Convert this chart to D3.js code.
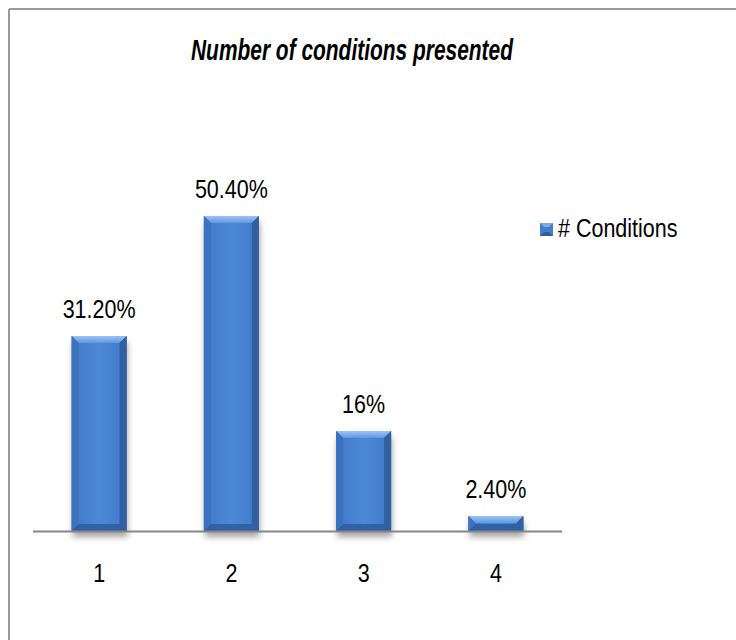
<!DOCTYPE html>
<html>
<head>
<meta charset="utf-8">
<script src="https://cdn.jsdelivr.net/npm/d3@7/dist/d3.min.js"></script>
<style>
  html, body { margin: 0; padding: 0; background: #fff; }
  svg { display: block; }
</style>
</head>
<body>
<svg id="chart" width="736" height="640"></svg>
<script>
// Chart data
const categories = ["1", "2", "3", "4"];
const values = [31.2, 50.4, 16, 2.4];
const valueLabels = ["31.20%", "50.40%", "16%", "2.40%"];
const seriesName = "# Conditions";
const titleText = "Number of conditions presented";

const W = 736, H = 640;
const svg = d3.select("#chart");
const font = "'Liberation Sans', Arial, sans-serif";

// Plot geometry
const x = d3.scaleBand().domain(categories).range([33, 562])
  .paddingInner(0.584).paddingOuter(0.292);
const y = d3.scaleLinear().domain([0, 60]).range([531, 156]);

const defs = svg.append("defs");

// Horizontal face gradient for bars
const face = defs.append("linearGradient").attr("id", "face")
  .attr("x1", "0").attr("x2", "1").attr("y1", "0").attr("y2", "0");
face.append("stop").attr("offset", "0").attr("stop-color", "#3a6cb3");
face.append("stop").attr("offset", "0.14").attr("stop-color", "#437dcc");
face.append("stop").attr("offset", "0.5").attr("stop-color", "#4d88d6");
face.append("stop").attr("offset", "0.86").attr("stop-color", "#437dcc");
face.append("stop").attr("offset", "1").attr("stop-color", "#3566aa");

const topG = defs.append("linearGradient").attr("id", "topbevel")
  .attr("x1", "0").attr("x2", "0").attr("y1", "0").attr("y2", "1");
topG.append("stop").attr("offset", "0").attr("stop-color", "#9cc4f4");
topG.append("stop").attr("offset", "1").attr("stop-color", "#5f97e0");

const shadow = defs.append("filter").attr("id", "shadow")
  .attr("x", "-30%").attr("y", "-30%").attr("width", "160%").attr("height", "160%");
shadow.append("feGaussianBlur").attr("stdDeviation", 3);

// Frame (top and left edges visible)
svg.append("line").attr("x1", 9).attr("y1", 9).attr("x2", W).attr("y2", 9)
  .attr("stroke", "#999", ).attr("stroke-width", 2);
svg.append("line").attr("x1", 9).attr("y1", 9).attr("x2", 9).attr("y2", H)
  .attr("stroke", "#999").attr("stroke-width", 2);

// Title
svg.append("text")
  .attr("x", 352).attr("y", 60)
  .attr("text-anchor", "middle")
  .attr("font-family", font)
  .attr("font-size", 30)
  .attr("font-weight", "bold")
  .attr("font-style", "italic")
  .attr("fill", "#000")
  .attr("textLength", 322).attr("lengthAdjust", "spacingAndGlyphs")
  .text(titleText);

// Helper: narrow text to mimic condensed face
function narrow(sel, factor) {
  sel.each(function() {
    const len = this.getComputedTextLength();
    d3.select(this).attr("textLength", len * factor).attr("lengthAdjust", "spacingAndGlyphs");
  });
}

const data = categories.map((c, i) => ({ c, v: values[i], label: valueLabels[i] }));
const bw = x.bandwidth();

// Bar shadows
svg.append("g").selectAll("rect").data(data).join("rect")
  .attr("x", d => x(d.c) + 1)
  .attr("y", d => y(d.v) + 6)
  .attr("width", bw)
  .attr("height", d => y(0) - y(d.v))
  .attr("fill", "#000").attr("opacity", 0.35)
  .attr("filter", "url(#shadow)");

// Bars with bevel
const bars = svg.append("g").selectAll("g").data(data).join("g");
bars.append("rect")
  .attr("x", d => x(d.c)).attr("y", d => y(d.v))
  .attr("width", bw).attr("height", d => y(0) - y(d.v))
  .attr("fill", "url(#face)");
const bev = 7;
// top bevel
bars.append("path").attr("fill", "url(#topbevel)").attr("d", d => {
  const x0 = x(d.c), x1 = x0 + bw, y0 = y(d.v), h = y(0) - y(d.v);
  const b = Math.min(bev, h / 2);
  return `M${x0},${y0}L${x1},${y0}L${x1 - b},${y0 + b}L${x0 + b},${y0 + b}Z`;
});
// bottom bevel
bars.append("path").attr("fill", "#2e5c9e").attr("opacity", 0.85).attr("d", d => {
  const x0 = x(d.c), x1 = x0 + bw, y1 = y(0), h = y(0) - y(d.v);
  const b = Math.min(bev, h / 2);
  return `M${x0},${y1}L${x1},${y1}L${x1 - b},${y1 - b}L${x0 + b},${y1 - b}Z`;
});
// left and right bevels
bars.append("path").attr("fill", "#3b71bd").attr("d", d => {
  const x0 = x(d.c), y0 = y(d.v), y1 = y(0), h = y1 - y0;
  const b = Math.min(bev, h / 2);
  return `M${x0},${y0}L${x0 + b},${y0 + b}L${x0 + b},${y1 - b}L${x0},${y1}Z`;
});
bars.append("path").attr("fill", "#305fa2").attr("d", d => {
  const x1 = x(d.c) + bw, y0 = y(d.v), y1 = y(0), h = y1 - y0;
  const b = Math.min(bev, h / 2);
  return `M${x1},${y0}L${x1 - b},${y0 + b}L${x1 - b},${y1 - b}L${x1},${y1}Z`;
});

// Baseline axis
svg.append("line").attr("x1", 33).attr("x2", 562).attr("y1", y(0) + 0.5).attr("y2", y(0) + 0.5)
  .attr("stroke", "#868686").attr("stroke-width", 2);

// Value labels
svg.append("g").selectAll("text").data(data).join("text")
  .attr("x", d => x(d.c) + bw / 2)
  .attr("y", d => y(d.v) - 18)
  .attr("text-anchor", "middle")
  .attr("font-family", font).attr("font-size", 25).attr("fill", "#000")
  .text(d => d.label)
  .call(narrow, 0.86);

// Category labels
svg.append("g").selectAll("text").data(categories).join("text")
  .attr("x", d => x(d) + bw / 2)
  .attr("y", 582)
  .attr("text-anchor", "middle")
  .attr("font-family", font).attr("font-size", 25).attr("fill", "#000")
  .text(d => d)
  .call(narrow, 0.86);

// Legend
const lg = svg.append("g");
lg.append("rect").attr("x", 540).attr("y", 223).attr("width", 13).attr("height", 13).attr("fill", "#437dcc");
lg.append("path").attr("fill", "#7aaae8")
  .attr("d", "M540,223L553,223L549,227L544,227Z");
lg.append("path").attr("fill", "#2e5c9e")
  .attr("d", "M540,236L553,236L549,232L544,232Z");
lg.append("text").attr("x", 558).attr("y", 237)
  .attr("font-family", font).attr("font-size", 25).attr("fill", "#000")
  .text(seriesName)
  .call(narrow, 0.86);
</script>
</body>
</html>
